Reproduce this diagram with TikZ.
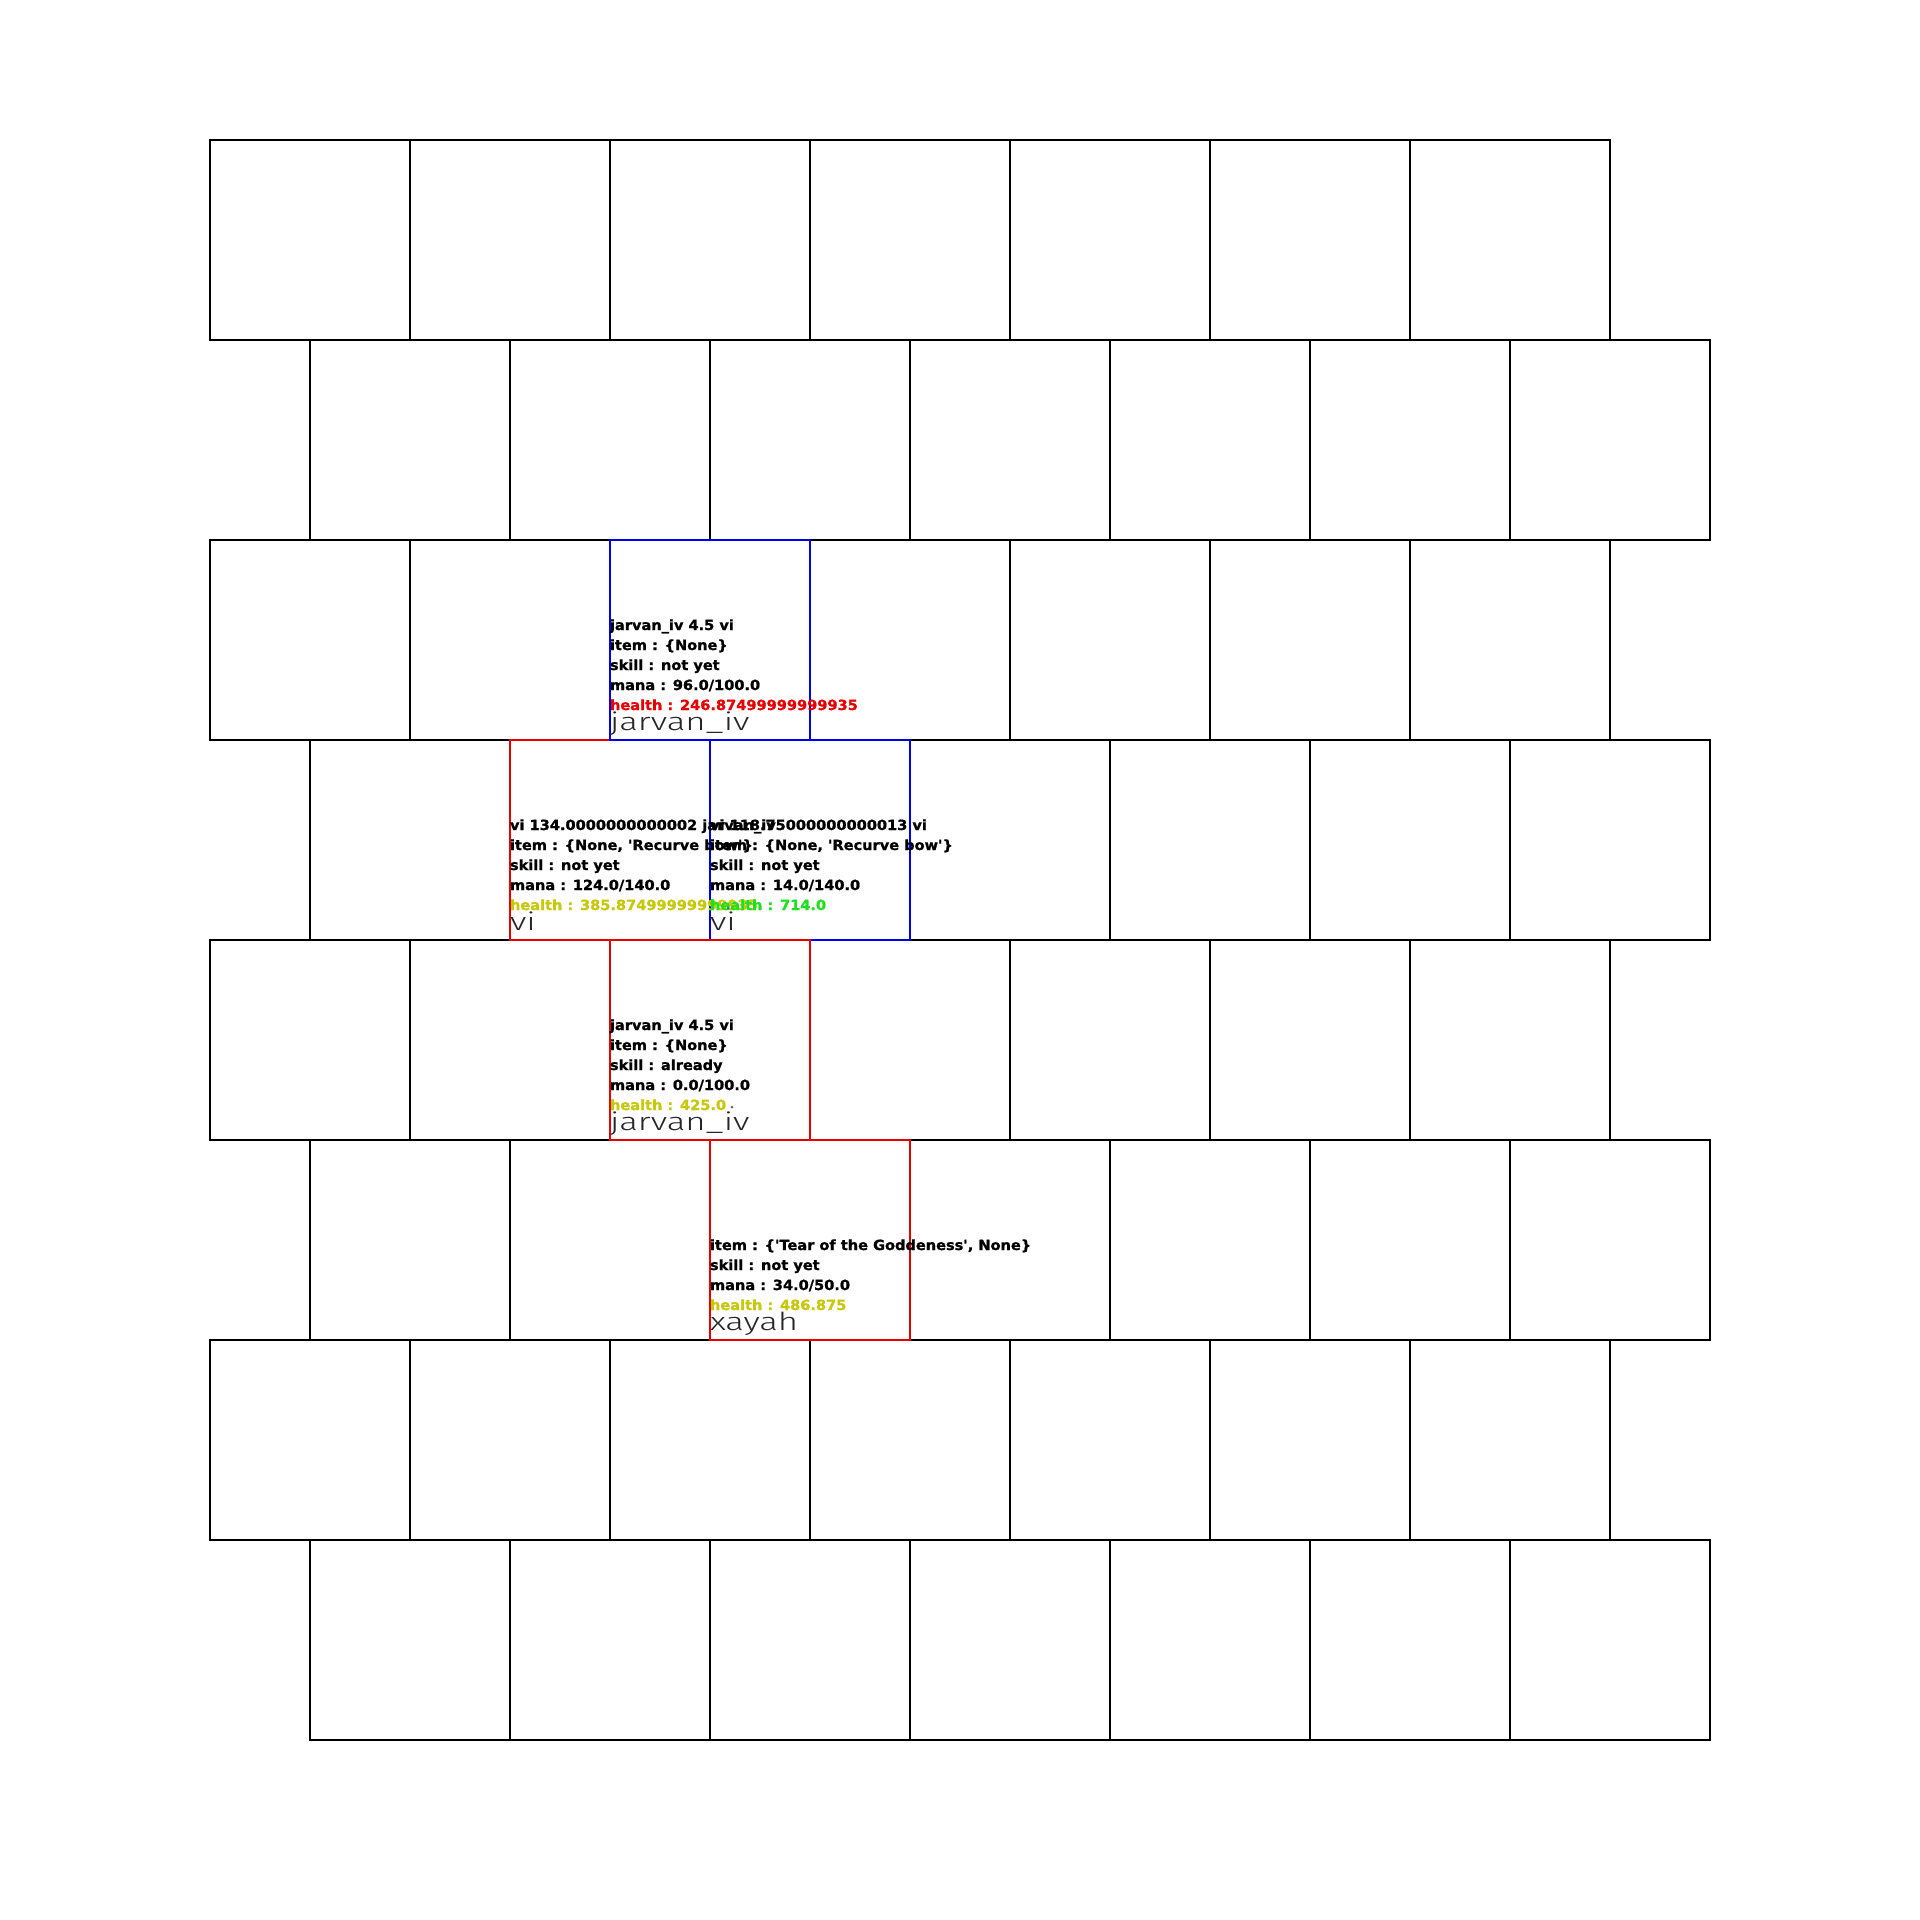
\documentclass[tikz,border=0pt]{standalone}
\usepackage{fontspec}
\newfontfamily\smallfont[FakeStretch=1.04,FakeBold=1.2,Ligatures=TeXOff]{DejaVu Sans Bold}
\IfFontExistsTF{Fira Sans Light}{%
  \newfontfamily\bigfont[FakeStretch=1.4,Ligatures=TeXOff]{Fira Sans Light}}{%
  \newfontfamily\bigfont[FakeStretch=1.3,Ligatures=TeXOff]{DejaVu Sans}}
\definecolor{cred}{RGB}{230,0,0}
\definecolor{cblue}{RGB}{0,0,230}
\definecolor{cyel}{RGB}{200,200,10}
\definecolor{cgreen}{RGB}{30,225,30}
\tikzset{
  grid/.style={draw=black,line width=1.4pt},
  redbox/.style={draw=cred,line width=1.4pt},
  bluebox/.style={draw=cblue,line width=1.4pt},
  info/.style={anchor=base west,inner sep=0pt,outer sep=0pt,font=\smallfont\fontsize{7pt}{8pt}\selectfont},
  uname/.style={anchor=base west,inner sep=0pt,outer sep=0pt,font=\bigfont\fontsize{12.4pt}{14pt}\selectfont,text=black!85}
}
\newcommand{\unitinfo}[8]{%
  \node[info] (#1l1) at (#2,#3+90) {#4};
  \node[info] (#1l2) at (#2,#3+110) {#5};
  \node[info] (#1l3) at (#2,#3+130) {#6};
  \node[info] (#1l4) at (#2,#3+150) {#7};
  \node[info] (#1l5) at (#2,#3+170) {#8};
}
\begin{document}
\begin{tikzpicture}[x=0.5pt,y=-0.5pt]
\fill[white] (0,0) rectangle (1920,1920);
\useasboundingbox (0,0) rectangle (1920,1920);
% grid
\foreach \r in {0,...,7}{
  \pgfmathsetmacro{\xo}{mod(\r,2)==0 ? 210 : 310}
  \foreach \c in {0,...,6}{
    \draw[grid] ({\xo+200*\c},{140+200*\r}) rectangle ({\xo+200*\c+200},{340+200*\r});
  }
}
% highlighted cells
\draw[redbox] (510,740) rectangle (710,940);
\draw[bluebox] (610,540) rectangle (810,740);
\draw[bluebox] (710,740) rectangle (910,940);
\draw[redbox] (610,940) rectangle (810,1140);
\draw[redbox] (710,1140) rectangle (910,1340);
% unit A (blue, row 2)
\unitinfo{a}{610}{540}{jarvan\_iv 4.5 vi}{item : \{None\}}{skill : not yet}{mana : 96.0/100.0}{\textcolor{cred}{health : 246.87499999999935}}
\node[uname] (aname) at (610,730) {jarvan\_iv};
% unit B (red, row 3)
\unitinfo{b}{510}{740}{vi 134.0000000000002 jarvan\_iv}{item : \{None, 'Recurve bow'\}}{skill : not yet}{mana : 124.0/140.0}{\textcolor{cyel}{health : 385.87499999999935}}
\node[uname] (bname) at (510,930) {vi};
% unit C (blue, row 3)
\unitinfo{c}{710}{740}{vi 118.75000000000013 vi}{item : \{None, 'Recurve bow'\}}{skill : not yet}{mana : 14.0/140.0}{\textcolor{cgreen}{health : 714.0}}
\node[uname] (cname) at (710,930) {vi};
% unit D (red, row 4)
\unitinfo{d}{610}{940}{jarvan\_iv 4.5 vi}{item : \{None\}}{skill : already}{mana : 0.0/100.0}{\textcolor{cyel}{health : 425.0}}
\node[uname] (dname) at (610,1130) {jarvan\_iv};
% unit E (red, row 5)
\unitinfo{e}{710}{1140}{}{item : \{'Tear of the Goddeness', None\}}{skill : not yet}{mana : 34.0/50.0}{\textcolor{cyel}{health : 486.875}}
\node[uname] (ename) at (710,1330) {xayah};
% small markers
\fill[black!60] (728,908) circle (1.5);
\fill[black!60] (732,1107) circle (1.5);
\end{tikzpicture}
\end{document}
